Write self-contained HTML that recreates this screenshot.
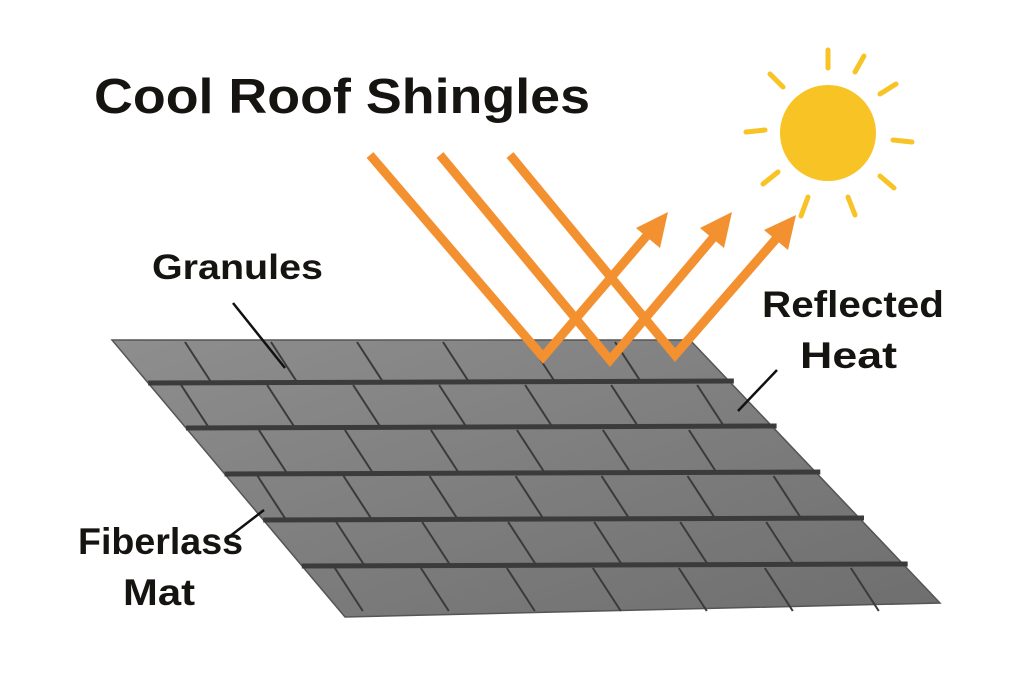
<!DOCTYPE html>
<html><head><meta charset="utf-8"><style>
html,body{margin:0;padding:0;background:#fff;}
svg{display:block}
text{font-family:"Liberation Sans",sans-serif;fill:#161410;}
</style></head><body>
<svg id="s" width="1024" height="683" viewBox="0 0 1024 683" xmlns="http://www.w3.org/2000/svg">
<defs>
<linearGradient id="g" x1="0" y1="0" x2="1" y2="1">
<stop offset="0" stop-color="#8e8e8e"/><stop offset="1" stop-color="#6e6e6e"/>
</linearGradient>
</defs>
<polygon points="112,340 690,340 940,603 345,617" fill="url(#g)" stroke="#555" stroke-width="1.5"/>
<g id="seams" stroke="#3a3a3a" stroke-width="2"></g>
<g id="rows" stroke="#3b3b3b" stroke-width="5"></g>
<g stroke="#f39130" stroke-width="9" fill="none" stroke-linejoin="miter">
<polyline points="370,155 543,357 650,232"/>
<polyline points="440,155 610,360 718,232"/>
<polyline points="510,155 675,355 782,232"/>
</g>
<g fill="#f39130">
<polygon points="668,212 636,228 660,248"/>
<polygon points="732,212 700,228 724,248"/>
<polygon points="796,215 764,230 788,250"/>
</g>
<circle cx="828" cy="133" r="48" fill="#f7c325"/>
<g stroke="#f7c325" stroke-width="5" stroke-linecap="round">
<line x1="828" y1="68" x2="828" y2="50"/>
<line x1="783" y1="87" x2="770" y2="74"/>
<line x1="765" y1="130" x2="746" y2="132"/>
<line x1="778" y1="172" x2="763" y2="184"/>
<line x1="808" y1="197" x2="801" y2="216"/>
<line x1="848" y1="197" x2="855" y2="215"/>
<line x1="880" y1="176" x2="894" y2="188"/>
<line x1="893" y1="140" x2="912" y2="142"/>
<line x1="880" y1="94" x2="896" y2="84"/>
<line x1="855" y1="72" x2="864" y2="56"/>
</g>
<text x="94" y="113" font-size="49" font-weight="bold" textLength="496" lengthAdjust="spacingAndGlyphs">Cool Roof Shingles</text>
<text x="152" y="279" font-size="35" font-weight="bold" textLength="171" lengthAdjust="spacingAndGlyphs">Granules</text>
<line x1="233" y1="303" x2="285" y2="368" stroke="#111" stroke-width="2.5"/>
<text x="762" y="317" font-size="37" font-weight="bold" textLength="182" lengthAdjust="spacingAndGlyphs">Reflected</text>
<text x="800" y="368" font-size="37" font-weight="bold" textLength="97" lengthAdjust="spacingAndGlyphs">Heat</text>
<line x1="777" y1="370" x2="738" y2="411" stroke="#111" stroke-width="2.5"/>
<text x="78" y="554" font-size="37" font-weight="bold" textLength="165" lengthAdjust="spacingAndGlyphs">Fiberlass</text>
<text x="123" y="605" font-size="37" font-weight="bold" textLength="72" lengthAdjust="spacingAndGlyphs">Mat</text>
<line x1="225" y1="540" x2="264" y2="510" stroke="#111" stroke-width="2.5"/>
</svg>
<script>
(function(){
var ns="http://www.w3.org/2000/svg";
var ys=[340,383,428,474,520,566,613];
function xl(y){return 112+(y-340)*0.84;}
function xr(y){return 690+(y-340)*0.95;}
var sg=document.getElementById('seams'),rg=document.getElementById('rows');
for(var i=0;i<6;i++){
 var y0=ys[i]+2,y1=ys[i+1]-2;
 var off=(i%2==0)?185:145;
 off+= (ys[i]-340)*0.84;
 for(var x=off;x<xr(y0)-20;x+=86){
  if(x<xl(y0)+20)continue;
  var l=document.createElementNS(ns,'line');
  var xe=x+(y1-y0)*0.65;
  if(xe>xr(y1)-5)continue;
  l.setAttribute('x1',x);l.setAttribute('y1',y0);l.setAttribute('x2',xe);l.setAttribute('y2',y1);
  sg.appendChild(l);
 }
 if(i<5){
  var yy=ys[i+1];
  var r=document.createElementNS(ns,'line');
  r.setAttribute('x1',xl(yy));r.setAttribute('y1',yy);r.setAttribute('x2',xr(yy)+3);r.setAttribute('y2',yy-2);
  rg.appendChild(r);
 }
}
})();
</script>
</body></html>
